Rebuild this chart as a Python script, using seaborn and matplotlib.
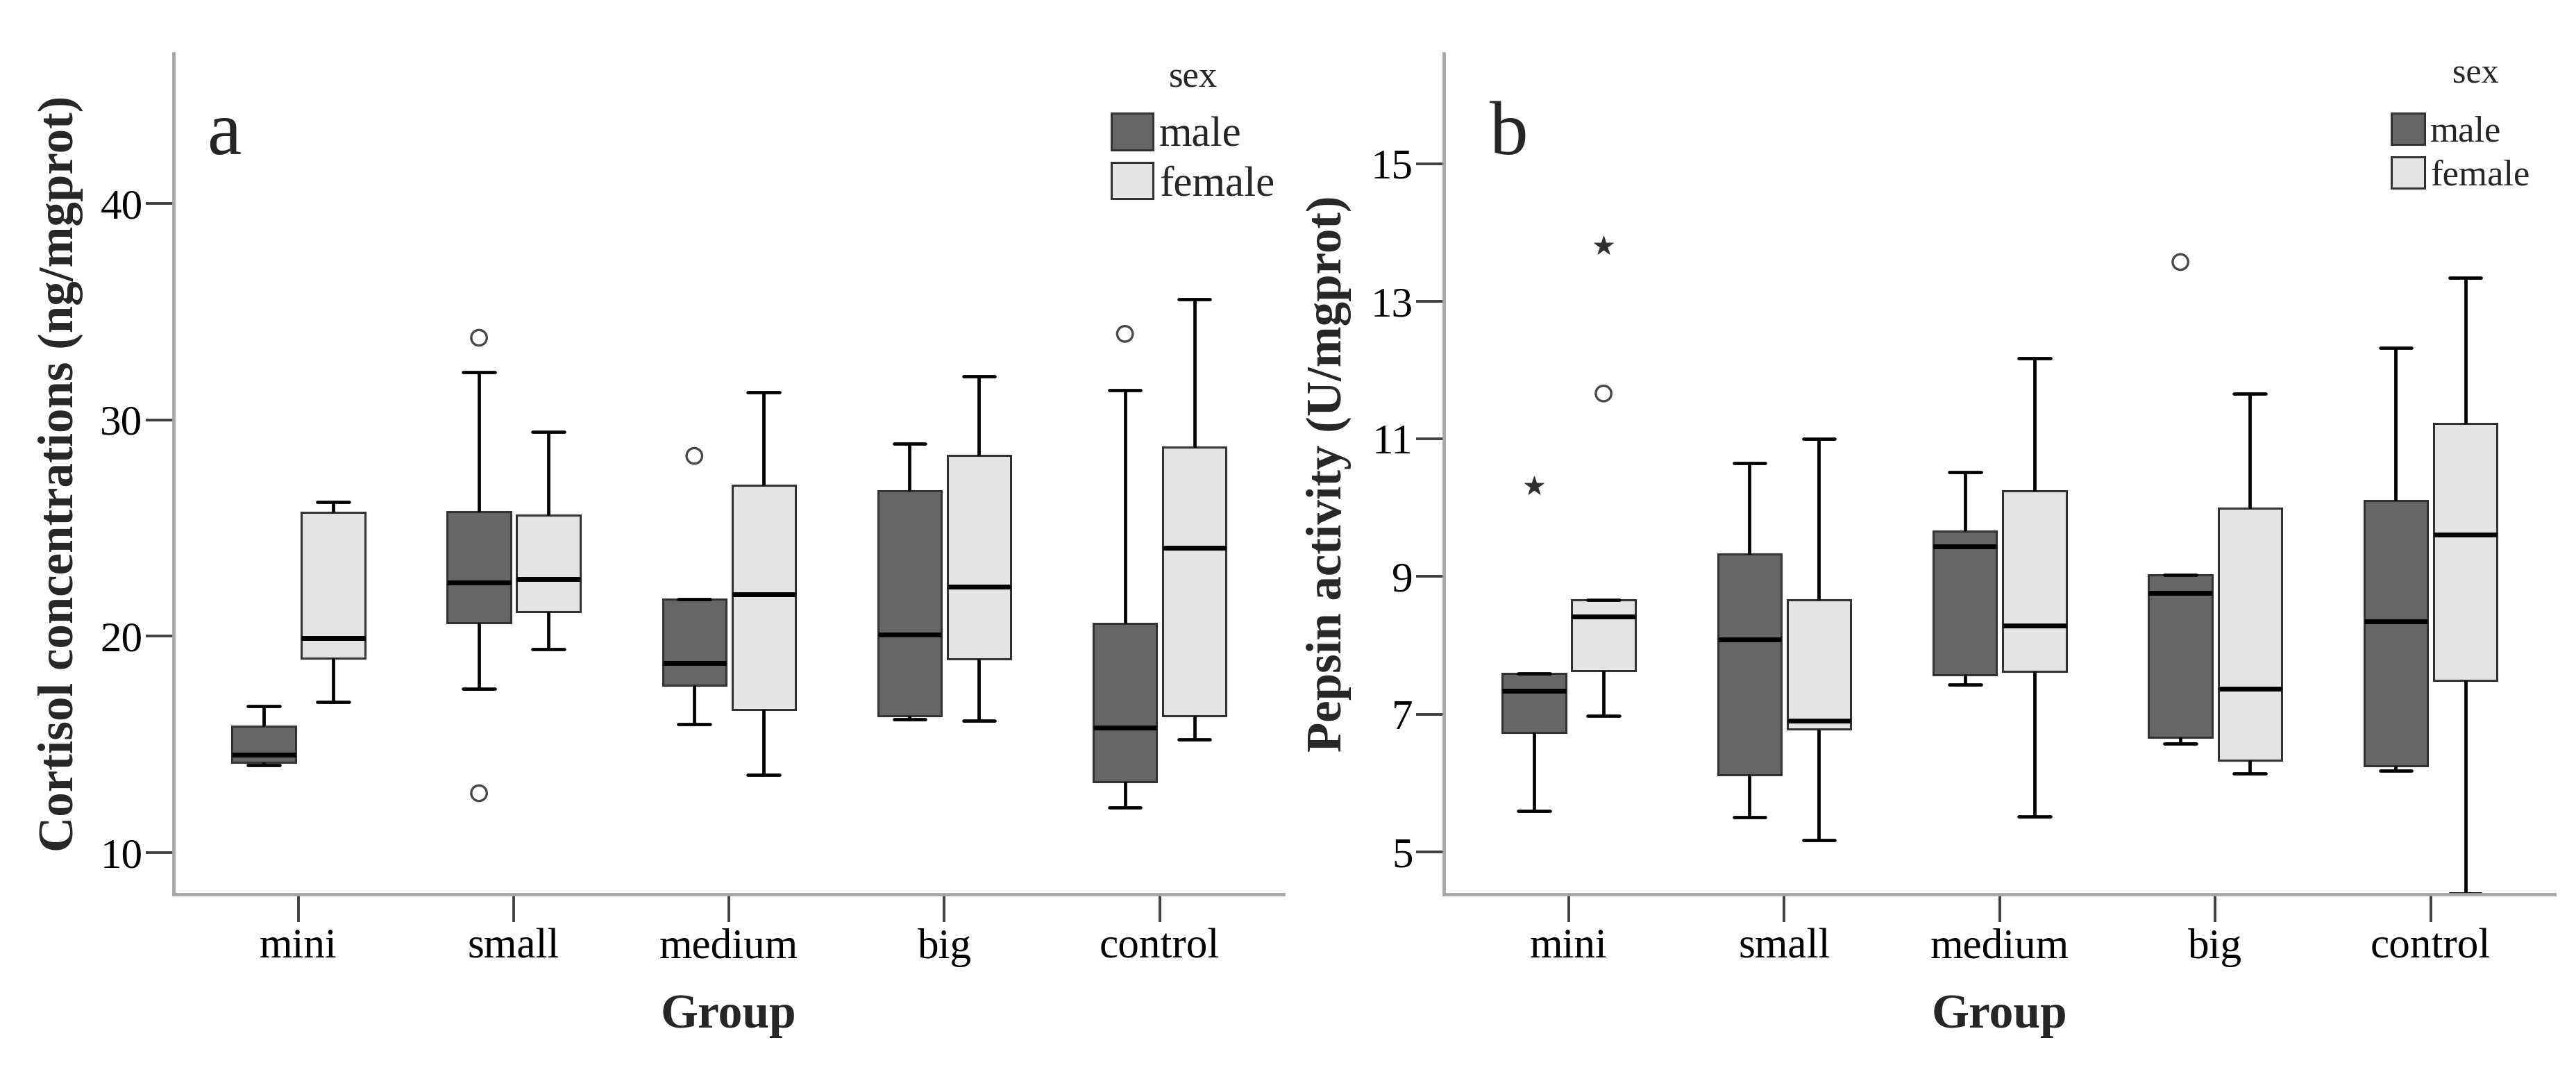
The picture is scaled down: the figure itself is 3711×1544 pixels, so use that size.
import numpy as np
import pandas as pd
import matplotlib
matplotlib.use("Agg")
import matplotlib.pyplot as plt
import seaborn as sns

# ---------------- data ----------------
GROUPS = ["mini", "small", "medium", "big", "control"]
SEXES = ["male", "female"]

# five-number summaries per group: lower whisker, Q1, median, Q3, upper whisker
CORT_MALE = [
    [14.04, 14.16, 14.51, 15.84, 16.78],
    [17.57, 20.63, 22.49, 25.74, 32.20],
    [15.93, 17.73, 18.74, 21.70, 21.70],
    [16.15, 16.31, 20.06, 26.72, 28.90],
    [12.08, 13.28, 15.77, 20.57, 31.36],
]
CORT_FEMALE = [
    [16.97, 18.99, 19.90, 25.71, 26.21],
    [19.40, 21.14, 22.65, 25.60, 29.43],
    [13.60, 16.59, 21.92, 26.97, 31.26],
    [16.09, 18.96, 22.27, 28.36, 32.00],
    [15.24, 16.31, 24.07, 28.74, 35.58],
]
CORT_OUT_GROUP = ["small", "small", "medium", "control"]
CORT_OUT_SEX = ["male", "male", "male", "male"]
CORT_OUT_VALUE = [33.79, 12.74, 28.33, 33.97]
CORT_OUT_KIND = ["circle", "circle", "circle", "circle"]

PEP_MALE = [
    [5.60, 6.74, 7.34, 7.59, 7.59],
    [5.50, 6.12, 8.09, 9.33, 10.65],
    [7.43, 7.57, 9.44, 9.66, 10.52],
    [6.57, 6.66, 8.76, 9.02, 9.02],
    [6.18, 6.25, 8.35, 10.10, 12.32],
]
PEP_FEMALE = [
    [6.98, 7.63, 8.42, 8.66, 8.66],
    [5.17, 6.79, 6.91, 8.66, 11.00],
    [5.51, 7.62, 8.29, 10.25, 12.17],
    [6.14, 6.33, 7.37, 9.99, 11.66],
    [4.40, 7.49, 9.61, 11.22, 13.34],
]
PEP_OUT_GROUP = ["mini", "mini", "mini", "big"]
PEP_OUT_SEX = ["male", "female", "female", "male"]
PEP_OUT_VALUE = [10.32, 13.81, 11.66, 13.57]
PEP_OUT_KIND = ["star", "star", "circle", "circle"]

CORT_LABEL = "Cortisol concentrations (ng/mgprot)"
PEP_LABEL = "Pepsin activity (U/mgprot)"
CORT_TICKS = [10, 20, 30, 40]
PEP_TICKS = [5, 7, 9, 11, 13, 15]
LEGEND_TITLE = "sex"

# ---------------- style ----------------
sns.set_theme(style="white")
plt.rcParams["font.family"] = ["Liberation Serif", "DejaVu Serif"]
plt.rcParams["axes.unicode_minus"] = False

MALE_C = "#666666"
FEMALE_C = "#e4e4e4"
BOX_W = 0.645
GAP = 0.087
SPINE_C = "#a6a6a6"
TICK_C = "#404040"


def long_df(male, female):
    rows = []
    for sex, summ in (("male", male), ("female", female)):
        for g, vals in zip(GROUPS, summ):
            for v in vals:
                rows.append({"group": g, "sex": sex, "value": v})
    return pd.DataFrame(rows)


def out_df(groups, sexes, values, kinds):
    df = pd.DataFrame({"group": groups, "sex": sexes, "value": values, "kind": kinds})
    off = {"male": -BOX_W / 4, "female": BOX_W / 4}
    df["xpos"] = [GROUPS.index(g) + off[s] for g, s in zip(df["group"], df["sex"])]
    return df


def panel(ax, male, female, outs, ylabel, letter, ylim, yticks,
          leg_x, leg_y, leg_fs, title_xy, title_fs, hl, hh, lsp, letter_x, label_x):
    df = long_df(male, female)
    sns.boxplot(
        data=df, x="group", y="value", hue="sex", order=GROUPS, hue_order=SEXES,
        palette={"male": MALE_C, "female": FEMALE_C}, saturation=1,
        width=BOX_W, gap=GAP, whis=(0, 100), showfliers=False,
        linewidth=2.2, linecolor="#333333",
        medianprops=dict(color="black", linewidth=5.0),
        whiskerprops=dict(color="black", linewidth=3.4),
        capprops=dict(color="black", linewidth=3.4),
        ax=ax,
    )
    od = out_df(*outs)
    circ = od[od["kind"] == "circle"]
    star = od[od["kind"] == "star"]
    if len(circ):
        sns.scatterplot(data=circ, x="xpos", y="value", marker="o", s=260,
                        color="#484848", facecolor="none", edgecolor="#484848",
                        linewidth=2.4, legend=False, ax=ax, zorder=5)
    if len(star):
        sns.scatterplot(data=star, x="xpos", y="value", marker="*", s=420,
                        color="#303030", edgecolor="#303030", linewidth=0.8,
                        legend=False, ax=ax, zorder=5)

    ax.set_xlim(-0.58, 4.575)
    ax.set_ylim(*ylim)
    ax.set_yticks(yticks)
    ax.set_yticklabels([str(t) for t in yticks])
    ax.set_xticks(range(len(GROUPS)))
    ax.set_xticklabels(GROUPS)

    for s in ("top", "right"):
        ax.spines[s].set_visible(False)
    for s in ("left", "bottom"):
        ax.spines[s].set_color(SPINE_C)
        ax.spines[s].set_linewidth(3.4)
    ax.tick_params(axis="both", which="major", direction="out", length=29,
                   width=2.8, color=TICK_C, labelsize=44, labelcolor="black",
                   left=True, bottom=True)
    ax.tick_params(axis="y", pad=3)
    ax.tick_params(axis="x", pad=6)

    ax.set_ylabel(ylabel, fontsize=51, fontweight="bold")
    ax.yaxis.set_label_coords(label_x, 0.5)
    ax.set_xlabel("Group", fontsize=50, fontweight="bold")
    ax.xaxis.set_label_coords(0.5, -0.118)

    ax.text(letter_x, 0.88, letter, transform=ax.transAxes, fontsize=80,
            ha="left", va="baseline")

    old = ax.get_legend()
    handles = old.legend_handles
    labels = [t.get_text() for t in old.get_texts()]
    old.remove()
    ax.legend(handles, labels, loc="upper left",
              bbox_to_anchor=(leg_x, leg_y), frameon=False,
              fontsize=leg_fs,
              handlelength=hl, handleheight=hh, handletextpad=0.15,
              labelspacing=lsp, borderpad=0, borderaxespad=0)
    ax.text(title_xy[0], title_xy[1], LEGEND_TITLE, transform=ax.transAxes,
            fontsize=title_fs, ha="center", va="baseline")


fig = plt.figure(figsize=(37.11, 15.44), dpi=100)
axA = fig.add_axes([250 / 3711, 1 - 1288 / 1544, 1599 / 3711, 1211 / 1544])
axB = fig.add_axes([2080 / 3711, 1 - 1288 / 1544, 1600 / 3711, 1211 / 1544])

panel(axA, CORT_MALE, CORT_FEMALE,
      (CORT_OUT_GROUP, CORT_OUT_SEX, CORT_OUT_VALUE, CORT_OUT_KIND),
      CORT_LABEL, "a", (8.07, 46.93), CORT_TICKS,
      leg_x=0.845, leg_y=0.929, leg_fs=44, title_xy=(0.919, 0.960), title_fs=38,
      hl=0.98, hh=0.95, lsp=0.17, letter_x=0.030, label_x=-0.081)
panel(axB, PEP_MALE, PEP_FEMALE,
      (PEP_OUT_GROUP, PEP_OUT_SEX, PEP_OUT_VALUE, PEP_OUT_KIND),
      PEP_LABEL, "b", (4.385, 16.6), PEP_TICKS,
      leg_x=0.853, leg_y=0.929, leg_fs=38, title_xy=(0.929, 0.9645), title_fs=36,
      hl=0.92, hh=0.93, lsp=0.22, letter_x=0.041, label_x=-0.083)

fig.savefig("out.png", dpi=100, facecolor="white")
